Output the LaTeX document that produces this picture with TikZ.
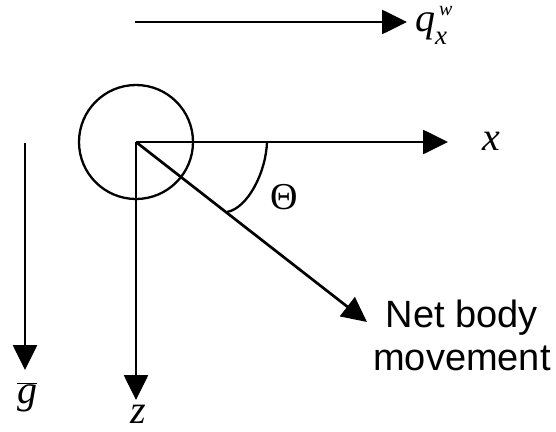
\documentclass[tikz,border=0pt]{standalone}
\usepackage{fontspec}
\setmainfont{Liberation Serif}
\newfontfamily\sansf{Liberation Sans}
\usetikzlibrary{arrows.meta}
\begin{document}
\begin{tikzpicture}[x=1pt,y=-1pt,
  axis/.style={line width=2.7pt,-{Triangle[length=25pt,width=24pt]}},
  thinline/.style={line width=2.3pt},
  lbl/.style={inner sep=0pt},
  mathlbl/.style={inner sep=0pt,font=\fontsize{40}{40}\selectfont\itshape}]
\useasboundingbox (0,0) rectangle (556,431);
\coordinate (O) at (136,142);
\coordinate (qs) at (135,22);
\coordinate (qe) at (407,22);
\coordinate (xe) at (448,142);
\coordinate (ze) at (136,400);
\coordinate (gs) at (25,143);
\coordinate (ge) at (25,370);
\coordinate (ne) at (367,322);
\coordinate (a1) at (267,142);
\coordinate (a2) at (227,212);
% top flux arrow
\draw[axis] (qs) -- (qe);
\node[lbl,anchor=base west] (q) at (415,31) {\fontsize{40}{40}\selectfont\itshape q\rlap{\hspace{4pt}\raisebox{16pt}{\fontsize{20}{20}\selectfont w}}\raisebox{-13pt}{\fontsize{27}{27}\selectfont x}};
% body
\draw[thinline] (O) circle (57);
% axes
\draw[axis] (O) -- (xe);
\node[mathlbl] (xl) at (491,141) {x};
\draw[axis] (O) -- (ze);
\node[mathlbl] (zl) at (138,414) {z};
\draw[axis] (gs) -- (ge);
\node[mathlbl] (gl) at (27,397) {$\overline{\hbox{\fontsize{40}{40}\selectfont\itshape g}}$};
% net movement
\draw[axis] (O) -- (ne);
\draw[thinline] (a1) .. controls (266,172) and (248,208) .. (a2);
\node[lbl,font=\fontsize{38}{38}\selectfont] (th) at (284,197) {Θ};
\node[lbl,anchor=base,font=\fontsize{38}{38}\selectfont\sansf] (nb1) at (462,327) {Net body};
\node[lbl,anchor=base,font=\fontsize{38}{38}\selectfont\sansf] (nb2) at (462,370) {movement};
\end{tikzpicture}
\end{document}
